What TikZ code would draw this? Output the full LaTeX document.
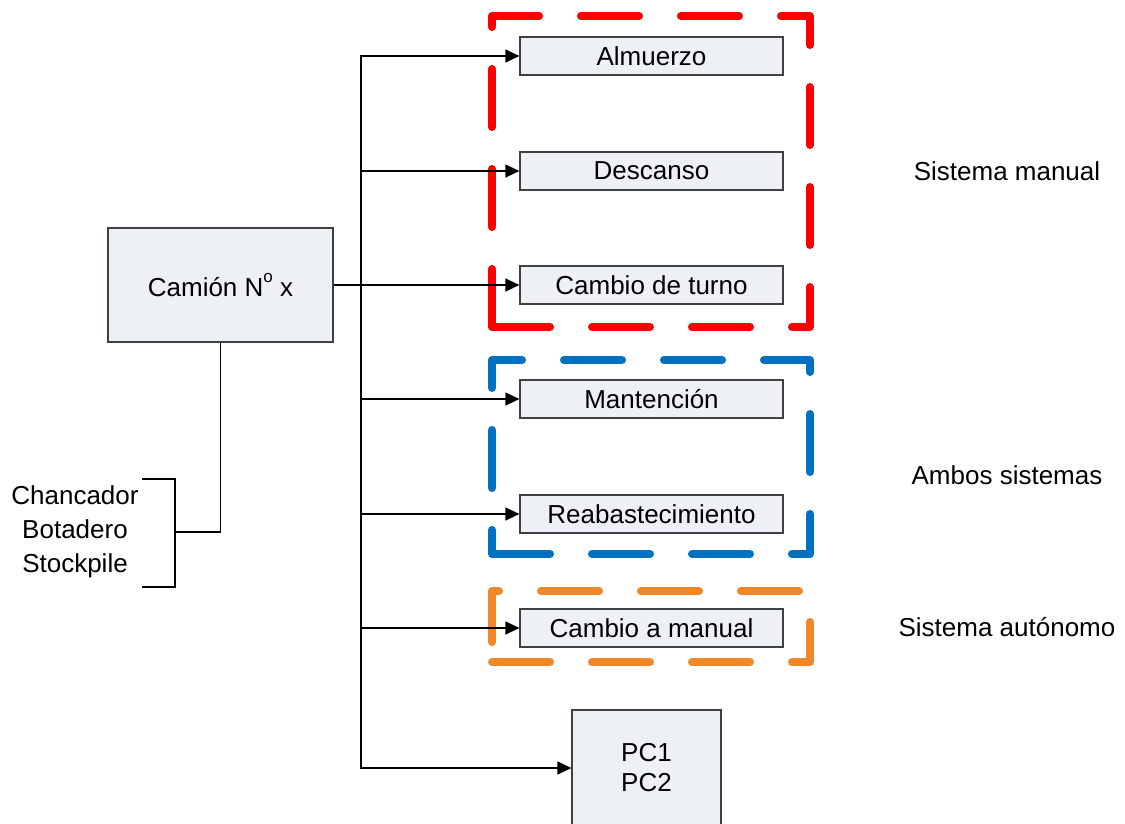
\documentclass[tikz,border=0pt]{standalone}
\usepackage{fontspec}
\setmainfont{Liberation Sans}
\usetikzlibrary{arrows.meta}
\definecolor{boxfill}{RGB}{237,240,245}
\definecolor{boxline}{RGB}{64,64,64}
\definecolor{grpred}{RGB}{255,0,0}
\definecolor{grpblue}{RGB}{0,112,192}
\definecolor{grporange}{RGB}{240,136,42}
\begin{document}
\begin{tikzpicture}[x=1pt,y=-1pt,
  font=\fontsize{26}{34}\selectfont,
  box/.style={draw=boxline,fill=boxfill,line width=1.2pt,inner sep=0pt,align=center},
  item/.style={box,minimum width=263pt,minimum height=38pt},
  link/.style={line width=1.2pt,black},
  arr/.style={link,-{Triangle[length=14pt,width=13pt]}},
  group/.style={line width=8pt,line cap=round,line join=round,dash pattern=on 58pt off 42pt},
  note/.style={align=center}]
\useasboundingbox (0,0) rectangle (1125,823);

% group frames, each traced from its lower left corner along the bottom
\draw[group,grpred] (492,327) -- (810,327) -- (810,16) -- (492,16) -- cycle;
\draw[group,grpblue] (492,554) -- (810,554) -- (810,360) -- (492,360) -- cycle;
\draw[group,grporange] (492,662) -- (810,662) -- (810,591) -- (492,591) -- cycle;

% main truck box
\node[box,minimum width=225pt,minimum height=114pt] (cam) at (220.5,285) {Cami\'on N\raisebox{0.55em}{\fontsize{17}{17}\selectfont o} x};

% destination boxes
\node[item] (alm) at (651.5,56) {Almuerzo};
\node[item] (desc) at (651.5,171) {Descanso};
\node[item] (turno) at (651.5,285) {Cambio de turno};
\node[item] (mant) at (651.5,399) {Mantenci\'on};
\node[item] (reab) at (651.5,514) {Reabastecimiento};
\node[item] (man) at (651.5,628) {Cambio a manual};
\node[box,minimum width=149pt,minimum height=116pt] (pc) at (646.5,768) {PC1\\[-4pt]PC2};

% group labels
\node[note] (lman) at (1007,171) {Sistema manual};
\node[note] (lamb) at (1007,475) {Ambos sistemas};
\node[note] (laut) at (1007,627) {Sistema aut\'onomo};

% dump destinations
\node[note] (dest) at (75,532) {Chancador\\Botadero\\Stockpile};

% branching trunk
\coordinate (tx) at (361,285);
\draw[arr] (cam.east) -- (turno.west);
\draw[arr] (tx) |- (alm.west);
\draw[arr] (tx) |- (desc.west);
\draw[arr] (tx) |- (mant.west);
\draw[arr] (tx) |- (reab.west);
\draw[arr] (tx) |- (man.west);
\draw[arr] (tx) |- (pc.west);

% bracket to the destinations
\coordinate (bt) at (175,479);
\coordinate (bb) at (175,587);
\coordinate (bm) at (175,532);
\draw[link] (142,479) -- (bt) -- (bb) -- (142,587);
\draw[link] (bm) -| (cam.south);
\end{tikzpicture}
\end{document}
